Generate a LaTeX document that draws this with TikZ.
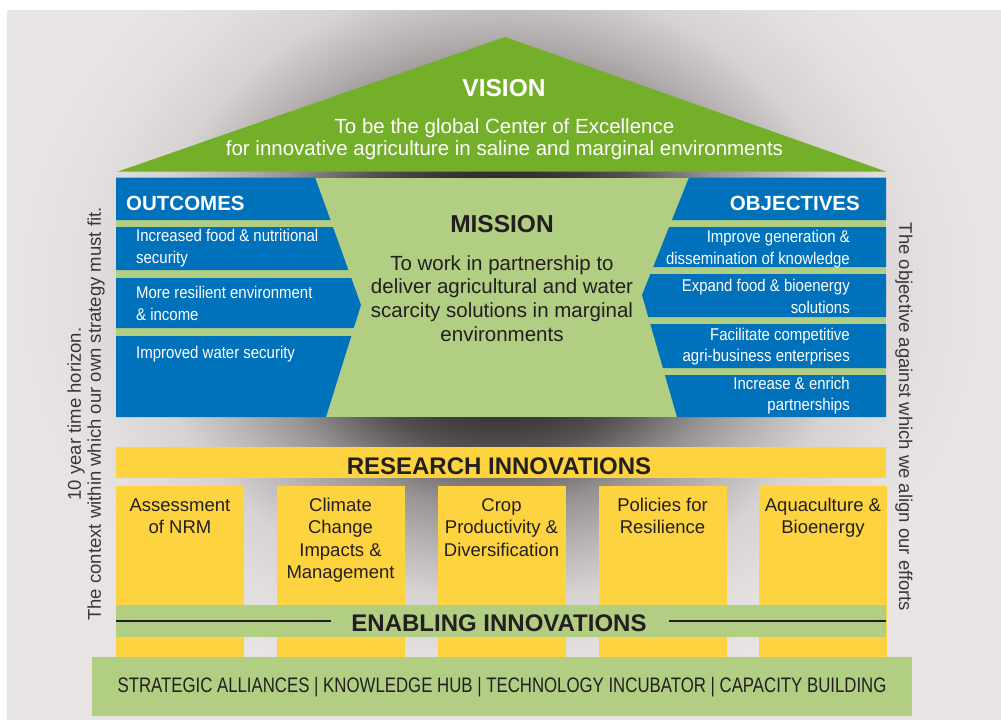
\documentclass[tikz,border=0pt]{standalone}
\usepackage{fontspec}
\setmainfont{Liberation Sans}
\newfontfamily\narrowfont[FakeStretch=0.88]{Liberation Sans}
\newfontfamily\barfont[FakeStretch=0.80]{Liberation Sans}

\definecolor{panelgrey}{HTML}{E8E4E4}
\definecolor{glowcore}{HTML}{1E1A1A}
\definecolor{glowdeep}{HTML}{282424}
\definecolor{glowdark}{HTML}{555050}
\definecolor{glowmid}{HTML}{999494}
\definecolor{glowsoft}{HTML}{B8B3B3}
\definecolor{glowpale}{HTML}{D8D3D3}
\definecolor{glowfaint}{HTML}{E4DFDF}
\definecolor{roofgreen}{HTML}{74AF29}
\definecolor{softgreen}{HTML}{B1CE83}
\definecolor{pillarblue}{HTML}{0072BC}
\definecolor{pillaryellow}{HTML}{FED340}
\definecolor{inkdark}{HTML}{231F20}
\definecolor{sidegrey}{HTML}{3A3737}

% dark glow behind the house
\pgfdeclareradialshading{houseglow}{\pgfpoint{0bp}{0bp}}{%
  color(0bp)=(glowcore); color(6bp)=(glowdeep); color(9.5bp)=(glowdark);
  color(13bp)=(glowmid); color(15.5bp)=(glowsoft); color(18.5bp)=(glowpale);
  color(22bp)=(glowfaint); color(25bp)=(panelgrey); color(50bp)=(panelgrey)}

\tikzset{
  headwhite/.style={text=white, inner sep=0, font=\bfseries\fontsize{20.5}{24}\selectfont},
  rowwhite/.style={text=white, inner sep=0, font=\narrowfont\fontsize{17}{21.6}\selectfont},
  titledark/.style={text=inkdark, inner sep=0, font=\bfseries\fontsize{24.5}{28}\selectfont},
  bodydark/.style={text=inkdark, inner sep=0, font=\fontsize{20.5}{23.9}\selectfont, align=center},
  pillartext/.style={text=inkdark, inner sep=0, font=\fontsize{18.5}{22.2}\selectfont, align=center, anchor=base},
  sidetext/.style={text=sidegrey, inner sep=0, font=\fontsize{18.5}{20}\selectfont, align=center},
  pillarbox/.style={fill=pillaryellow, draw=none, inner sep=0, anchor=north west,
                    minimum width=128pt, minimum height=171pt},
  bluebox/.style={fill=pillarblue, draw=none},
}

\begin{document}
\begin{tikzpicture}[x=1pt, y=-1pt]
\useasboundingbox (0,0) rectangle (1001,720);
\fill[white] (0,0) rectangle (1001,720);
\fill[panelgrey] (7,10) rectangle (1001,720);
\begin{scope}
  \clip (7,10) rectangle (1001,720);
  \shade[shading=houseglow] (500,290) ellipse [x radius=480pt, y radius=420pt];
\end{scope}

% roof (multi-line nodes are placed by the baseline of their last line)
\fill[roofgreen] (118,171.5) -- (505,37) -- (886,171.5) -- cycle;
\node[headwhite, font=\bfseries\fontsize{24.5}{28}\selectfont, anchor=base] (vision) at (504,96) {VISION};
\node[text=white, inner sep=0, font=\fontsize{20.5}{22.7}\selectfont, align=center, anchor=base]
  (visiontext) at (504.5,155.7) {To be the global Center of Excellence\\for innovative agriculture in saline and marginal environments};

% house body
\fill[softgreen] (116,177.5) rectangle (886,417);

% outcome bands
\fill[bluebox] (116,177.5) -- (315,177.5) -- (330.5,220) -- (116,220) -- cycle;
\fill[bluebox] (116,227) -- (333,227) -- (348.4,270) -- (116,270) -- cycle;
\fill[bluebox] (116,278) -- (351.3,278) -- (361,305) -- (353.8,328) -- (116,328) -- cycle;
\fill[bluebox] (116,336) -- (351.3,336) -- (326,417) -- (116,417) -- cycle;

% objective bands
\fill[bluebox] (886,177.5) -- (689,177.5) -- (671.9,220) -- (886,220) -- cycle;
\fill[bluebox] (886,227) -- (669.1,227) -- (653.2,267) -- (886,267) -- cycle;
\fill[bluebox] (886,274) -- (650.4,274) -- (642,295) -- (648.3,317) -- (886,317) -- cycle;
\fill[bluebox] (886,324) -- (650.3,324) -- (662.9,368) -- (886,368) -- cycle;
\fill[bluebox] (886,375) -- (664.9,375) -- (677,417) -- (886,417) -- cycle;

\node[headwhite, anchor=base west] (outcomes) at (126,210) {OUTCOMES};
\node[rowwhite, align=left, anchor=base west] (out1) at (136,263.3) {Increased food \& nutritional\\security};
\node[rowwhite, align=left, anchor=base west] (out2) at (136,320) {More resilient environment\\\& income};
\node[rowwhite, align=left, anchor=base west] (out3) at (136,358.3) {Improved water security};

\node[headwhite, anchor=base east] (objectives) at (860,210) {OBJECTIVES};
\node[rowwhite, align=right, anchor=base east] (obj1) at (850,264.3) {Improve generation \&\\dissemination of knowledge};
\node[rowwhite, align=right, anchor=base east] (obj2) at (850,313.3) {Expand food \& bioenergy\\solutions};
\node[rowwhite, align=right, anchor=base east] (obj3) at (850,361.7) {Facilitate competitive\\agri-business enterprises};
\node[rowwhite, align=right, anchor=base east] (obj4) at (850,410.7) {Increase \& enrich\\partnerships};

\node[titledark, anchor=base] (mission) at (502,232.7) {MISSION};
\node[bodydark, anchor=base] (missiontext) at (502,341.7) {To work in partnership to\\deliver agricultural and water\\scarcity solutions in marginal\\environments};

% research innovations
\node[fill=pillaryellow, inner sep=0, anchor=north west, minimum width=770pt, minimum height=31pt] (resbar) at (116,447) {};
\node[titledark, font=\bfseries\fontsize{24}{28}\selectfont, anchor=base] (restitle) at (499,474) {RESEARCH INNOVATIONS};

\node[pillarbox] (p1) at (116,486) {};
\node[pillarbox] (p2) at (277,486) {};
\node[pillarbox] (p3) at (438,486) {};
\node[pillarbox] (p4) at (599,486) {};
\node[pillarbox] (p5) at (759,486) {};

\node[pillartext] (t1) at (180,533.9) {Assessment\\of NRM};
\node[pillartext] (t2) at (340.5,578.3) {Climate\\Change\\Impacts \&\\Management};
\node[pillartext] (t3) at (501.5,556.1) {Crop\\Productivity \&\\Diversification};
\node[pillartext] (t4) at (662.5,533.9) {Policies for\\Resilience};
\node[pillartext] (t5) at (823,533.9) {Aquaculture \&\\Bioenergy};

% enabling innovations
\node[fill=softgreen, inner sep=0, anchor=north west, minimum width=770pt, minimum height=32pt] (enbar) at (116,605) {};
\node[titledark, font=\bfseries\fontsize{24}{28}\selectfont, anchor=base] (entitle) at (499,631) {ENABLING INNOVATIONS};
\draw[line width=1.5pt, inkdark] (enbar.west) -- ([xshift=-20pt]entitle.west |- enbar.west);
\draw[line width=1.5pt, inkdark] ([xshift=22pt]entitle.east |- enbar.east) -- (enbar.east);

% foundation
\node[fill=softgreen, inner sep=0, anchor=north west, minimum width=820pt, minimum height=59pt] (base) at (92,657) {};
\node[text=inkdark, inner sep=0, font=\barfont\fontsize{21}{24}\selectfont, anchor=base] (basetext) at (502,692)
  {STRATEGIC ALLIANCES | KNOWLEDGE HUB | TECHNOLOGY INCUBATOR | CAPACITY BUILDING};

% side notes
\node[sidetext, rotate=90] (leftnote) at (86,414) {10 year time horizon.\\The context within which our own strategy must fit.};
\node[sidetext, rotate=-90] (rightnote) at (904,417) {The objective against which we align our efforts};
\end{tikzpicture}
\end{document}
